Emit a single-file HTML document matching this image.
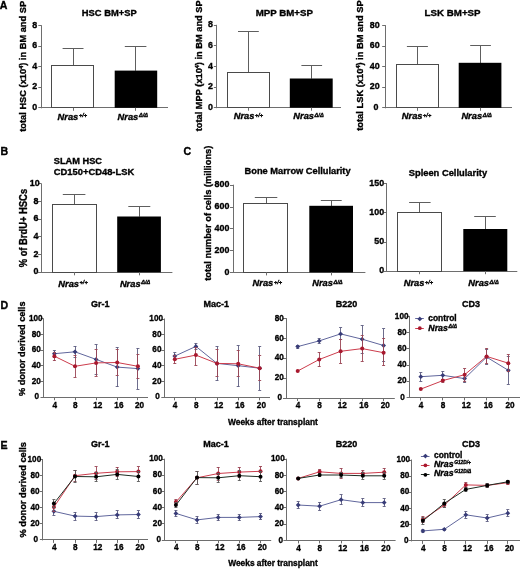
<!DOCTYPE html>
<html><head><meta charset="utf-8"><title>Figure</title>
<style>html,body{margin:0;padding:0;background:#fff;width:520px;height:569px;overflow:hidden}
svg{display:block;will-change:transform}
text{font-family:"Liberation Sans",sans-serif;font-weight:bold;stroke:#000;stroke-width:0.35px}</style></head>
<body>
<svg width="520" height="569" viewBox="0 0 520 569">
<g font-family='"Liberation Sans", sans-serif' font-weight="bold">
<text transform="translate(-0.2,8.8) scale(1.05,1)" font-size="10.1" text-anchor="start" style="" >A</text>
<text transform="translate(0.6,154.6) scale(1.05,1)" font-size="10.1" text-anchor="start" style="" >B</text>
<text transform="translate(183.6,154.7) scale(1.05,1)" font-size="10.1" text-anchor="start" style="" >C</text>
<text transform="translate(0.6,309.0) scale(1.05,1)" font-size="10.1" text-anchor="start" style="" >D</text>
<text transform="translate(0.6,448.8) scale(1.05,1)" font-size="10.1" text-anchor="start" style="" >E</text>
<line x1="41.5" y1="25.2" x2="41.5" y2="108.3" stroke="#6e6e6e" stroke-width="1"/>
<line x1="40.8" y1="107.5" x2="168" y2="107.5" stroke="#6e6e6e" stroke-width="1"/>
<line x1="38.3" y1="107.5" x2="41.3" y2="107.5" stroke="#6e6e6e" stroke-width="1"/>
<text transform="translate(34.6,109.9) scale(0.95,1)" font-size="9.37" text-anchor="middle" style="" >0</text>
<line x1="38.3" y1="87.5" x2="41.3" y2="87.5" stroke="#6e6e6e" stroke-width="1"/>
<text transform="translate(34.6,89.38) scale(0.95,1)" font-size="9.37" text-anchor="middle" style="" >2</text>
<line x1="38.3" y1="66.5" x2="41.3" y2="66.5" stroke="#6e6e6e" stroke-width="1"/>
<text transform="translate(34.6,68.85) scale(0.95,1)" font-size="9.37" text-anchor="middle" style="" >4</text>
<line x1="38.3" y1="46.5" x2="41.3" y2="46.5" stroke="#6e6e6e" stroke-width="1"/>
<text transform="translate(34.6,48.33) scale(0.95,1)" font-size="9.37" text-anchor="middle" style="" >6</text>
<line x1="38.3" y1="25.5" x2="41.3" y2="25.5" stroke="#6e6e6e" stroke-width="1"/>
<text transform="translate(34.6,27.8) scale(0.95,1)" font-size="9.37" text-anchor="middle" style="" >8</text>
<line x1="73.5" y1="65.8" x2="73.5" y2="48.5" stroke="#5e5e5e" stroke-width="1"/>
<line x1="62.6" y1="48.5" x2="83.5" y2="48.5" stroke="#5e5e5e" stroke-width="1"/>
<rect x="51.5" y="65.5" width="42.0" height="42.0" fill="#fff" stroke="#4a4a4a" stroke-width="1"/>
<line x1="73.5" y1="107.8" x2="73.5" y2="110.8" stroke="#6e6e6e" stroke-width="1"/>
<line x1="135.5" y1="70.8" x2="135.5" y2="46.3" stroke="#5e5e5e" stroke-width="1"/>
<line x1="124.8" y1="46.5" x2="146.4" y2="46.5" stroke="#5e5e5e" stroke-width="1"/>
<rect x="114.7" y="70.6" width="42.5" height="37.2" fill="#000"/>
<line x1="135.5" y1="107.8" x2="135.5" y2="110.8" stroke="#6e6e6e" stroke-width="1"/>
<text transform="translate(109.3,15.8) scale(1.0,1)" font-size="9.6" text-anchor="middle" style="" textLength="55.0" lengthAdjust="spacingAndGlyphs" >HSC BM+SP</text>
<text transform="translate(26.2,131.8) rotate(-90) scale(0.96,1)" font-size="9.69" textLength="136.46" lengthAdjust="spacingAndGlyphs">total HSC (x10<tspan font-size="5.6" dy="-3.2">4</tspan><tspan dy="3.2">)</tspan> in BM and SP</text>
<text transform="translate(57.6,119.5) scale(1.0,1)" font-size="9.3" text-anchor="start" style="font-style:italic">Nras<tspan font-size="5.6" dy="-2.7" dx="0.6">+/+</tspan></text>
<text transform="translate(117.6,119.5) scale(1.0,1)" font-size="9.3" text-anchor="start" style="font-style:italic">Nras<tspan font-size="5.6" dy="-2.7" dx="0.6">Δ/Δ</tspan></text>
<line x1="216.5" y1="24.8" x2="216.5" y2="108.2" stroke="#6e6e6e" stroke-width="1"/>
<line x1="216.3" y1="107.5" x2="341" y2="107.5" stroke="#6e6e6e" stroke-width="1"/>
<line x1="213.8" y1="107.5" x2="216.8" y2="107.5" stroke="#6e6e6e" stroke-width="1"/>
<text transform="translate(210.5,109.8) scale(0.95,1)" font-size="9.37" text-anchor="middle" style="" >0</text>
<line x1="213.8" y1="87.5" x2="216.8" y2="87.5" stroke="#6e6e6e" stroke-width="1"/>
<text transform="translate(210.5,89.2) scale(0.95,1)" font-size="9.37" text-anchor="middle" style="" >2</text>
<line x1="213.8" y1="66.5" x2="216.8" y2="66.5" stroke="#6e6e6e" stroke-width="1"/>
<text transform="translate(210.5,68.6) scale(0.95,1)" font-size="9.37" text-anchor="middle" style="" >4</text>
<line x1="213.8" y1="45.5" x2="216.8" y2="45.5" stroke="#6e6e6e" stroke-width="1"/>
<text transform="translate(210.5,48.0) scale(0.95,1)" font-size="9.37" text-anchor="middle" style="" >6</text>
<line x1="213.8" y1="25.5" x2="216.8" y2="25.5" stroke="#6e6e6e" stroke-width="1"/>
<text transform="translate(210.5,27.4) scale(0.95,1)" font-size="9.37" text-anchor="middle" style="" >8</text>
<line x1="248.5" y1="72.2" x2="248.5" y2="31.7" stroke="#5e5e5e" stroke-width="1"/>
<line x1="238.0" y1="31.5" x2="258.8" y2="31.5" stroke="#5e5e5e" stroke-width="1"/>
<rect x="227.5" y="72.5" width="42.0" height="35.0" fill="#fff" stroke="#4a4a4a" stroke-width="1"/>
<line x1="248.5" y1="107.7" x2="248.5" y2="110.7" stroke="#6e6e6e" stroke-width="1"/>
<line x1="311.5" y1="78.7" x2="311.5" y2="65.7" stroke="#5e5e5e" stroke-width="1"/>
<line x1="301.4" y1="65.5" x2="322.1" y2="65.5" stroke="#5e5e5e" stroke-width="1"/>
<rect x="289.8" y="78.5" width="42.9" height="29.2" fill="#000"/>
<line x1="311.5" y1="107.7" x2="311.5" y2="110.7" stroke="#6e6e6e" stroke-width="1"/>
<text transform="translate(284.3,15.8) scale(1.0,1)" font-size="9.6" text-anchor="middle" style="" textLength="57.3" lengthAdjust="spacingAndGlyphs" >MPP BM+SP</text>
<text transform="translate(202,131.3) rotate(-90) scale(0.96,1)" font-size="9.69" textLength="136.46" lengthAdjust="spacingAndGlyphs">total MPP (x10<tspan font-size="5.6" dy="-3.2">4</tspan><tspan dy="3.2">)</tspan> in BM and SP</text>
<text transform="translate(233.7,119.2) scale(1.0,1)" font-size="9.3" text-anchor="start" style="font-style:italic">Nras<tspan font-size="5.6" dy="-2.7" dx="0.6">+/+</tspan></text>
<text transform="translate(293.3,119.2) scale(1.0,1)" font-size="9.3" text-anchor="start" style="font-style:italic">Nras<tspan font-size="5.6" dy="-2.7" dx="0.6">Δ/Δ</tspan></text>
<line x1="385.5" y1="25.1" x2="385.5" y2="108.3" stroke="#6e6e6e" stroke-width="1"/>
<line x1="384.7" y1="107.5" x2="512" y2="107.5" stroke="#6e6e6e" stroke-width="1"/>
<line x1="382.2" y1="107.5" x2="385.2" y2="107.5" stroke="#6e6e6e" stroke-width="1"/>
<text transform="translate(375.9,109.9) scale(0.95,1)" font-size="9.37" text-anchor="middle" style="" >0</text>
<line x1="382.2" y1="87.5" x2="385.2" y2="87.5" stroke="#6e6e6e" stroke-width="1"/>
<text transform="translate(374.8,89.35) scale(0.95,1)" font-size="9.37" text-anchor="middle" style="" >20</text>
<line x1="382.2" y1="66.5" x2="385.2" y2="66.5" stroke="#6e6e6e" stroke-width="1"/>
<text transform="translate(374.8,68.8) scale(0.95,1)" font-size="9.37" text-anchor="middle" style="" >40</text>
<line x1="382.2" y1="46.5" x2="385.2" y2="46.5" stroke="#6e6e6e" stroke-width="1"/>
<text transform="translate(374.8,48.25) scale(0.95,1)" font-size="9.37" text-anchor="middle" style="" >60</text>
<line x1="382.2" y1="25.5" x2="385.2" y2="25.5" stroke="#6e6e6e" stroke-width="1"/>
<text transform="translate(374.8,27.7) scale(0.95,1)" font-size="9.37" text-anchor="middle" style="" >80</text>
<line x1="417.5" y1="64.9" x2="417.5" y2="46.4" stroke="#5e5e5e" stroke-width="1"/>
<line x1="406.9" y1="46.5" x2="427.9" y2="46.5" stroke="#5e5e5e" stroke-width="1"/>
<rect x="396.5" y="64.5" width="42.0" height="43.0" fill="#fff" stroke="#4a4a4a" stroke-width="1"/>
<line x1="417.5" y1="107.8" x2="417.5" y2="110.8" stroke="#6e6e6e" stroke-width="1"/>
<line x1="480.5" y1="63.0" x2="480.5" y2="45.2" stroke="#5e5e5e" stroke-width="1"/>
<line x1="470.2" y1="45.5" x2="490.9" y2="45.5" stroke="#5e5e5e" stroke-width="1"/>
<rect x="458.7" y="62.8" width="42.7" height="45.0" fill="#000"/>
<line x1="480.5" y1="107.8" x2="480.5" y2="110.8" stroke="#6e6e6e" stroke-width="1"/>
<text transform="translate(452.6,15.8) scale(1.0,1)" font-size="9.6" text-anchor="middle" style="" textLength="56.0" lengthAdjust="spacingAndGlyphs" >LSK BM+SP</text>
<text transform="translate(363.3,130.8) rotate(-90) scale(0.96,1)" font-size="9.69" textLength="135.94" lengthAdjust="spacingAndGlyphs">total LSK (x10<tspan font-size="5.6" dy="-3.2">4</tspan><tspan dy="3.2">)</tspan> in BM and SP</text>
<text transform="translate(401.8,119.2) scale(1.0,1)" font-size="9.3" text-anchor="start" style="font-style:italic">Nras<tspan font-size="5.6" dy="-2.7" dx="0.6">+/+</tspan></text>
<text transform="translate(461.4,119.2) scale(1.0,1)" font-size="9.3" text-anchor="start" style="font-style:italic">Nras<tspan font-size="5.6" dy="-2.7" dx="0.6">Δ/Δ</tspan></text>
<line x1="41.5" y1="183.3" x2="41.5" y2="272.8" stroke="#6e6e6e" stroke-width="1"/>
<line x1="40.5" y1="272.5" x2="172.4" y2="272.5" stroke="#6e6e6e" stroke-width="1"/>
<line x1="38.0" y1="272.5" x2="41.0" y2="272.5" stroke="#6e6e6e" stroke-width="1"/>
<text transform="translate(35.9,274.4) scale(0.95,1)" font-size="9.37" text-anchor="middle" style="" >0</text>
<line x1="38.0" y1="254.5" x2="41.0" y2="254.5" stroke="#6e6e6e" stroke-width="1"/>
<text transform="translate(35.9,256.7) scale(0.95,1)" font-size="9.37" text-anchor="middle" style="" >2</text>
<line x1="38.0" y1="236.5" x2="41.0" y2="236.5" stroke="#6e6e6e" stroke-width="1"/>
<text transform="translate(35.9,239.0) scale(0.95,1)" font-size="9.37" text-anchor="middle" style="" >4</text>
<line x1="38.0" y1="219.5" x2="41.0" y2="219.5" stroke="#6e6e6e" stroke-width="1"/>
<text transform="translate(35.9,221.3) scale(0.95,1)" font-size="9.37" text-anchor="middle" style="" >6</text>
<line x1="38.0" y1="201.5" x2="41.0" y2="201.5" stroke="#6e6e6e" stroke-width="1"/>
<text transform="translate(35.9,203.6) scale(0.95,1)" font-size="9.37" text-anchor="middle" style="" >8</text>
<line x1="38.0" y1="183.5" x2="41.0" y2="183.5" stroke="#6e6e6e" stroke-width="1"/>
<text transform="translate(34.8,185.9) scale(0.95,1)" font-size="9.37" text-anchor="middle" style="" >10</text>
<line x1="74.5" y1="204.5" x2="74.5" y2="194.7" stroke="#5e5e5e" stroke-width="1"/>
<line x1="62.8" y1="194.5" x2="85.4" y2="194.5" stroke="#5e5e5e" stroke-width="1"/>
<rect x="52.5" y="204.5" width="44.0" height="68.0" fill="#fff" stroke="#4a4a4a" stroke-width="1"/>
<line x1="74.5" y1="272.3" x2="74.5" y2="275.3" stroke="#6e6e6e" stroke-width="1"/>
<line x1="139.5" y1="216.7" x2="139.5" y2="206.6" stroke="#5e5e5e" stroke-width="1"/>
<line x1="128.3" y1="206.5" x2="150.3" y2="206.5" stroke="#5e5e5e" stroke-width="1"/>
<rect x="117.2" y="216.5" width="43.7" height="55.8" fill="#000"/>
<line x1="139.5" y1="272.3" x2="139.5" y2="275.3" stroke="#6e6e6e" stroke-width="1"/>
<text transform="translate(53.8,164.2) scale(1.0,1)" font-size="9.3" text-anchor="start" style="" textLength="48.2" lengthAdjust="spacingAndGlyphs" >SLAM HSC</text>
<text transform="translate(53.8,175.2) scale(1.0,1)" font-size="9.3" text-anchor="start" style="" textLength="80.4" lengthAdjust="spacingAndGlyphs" >CD150+CD48-LSK</text>
<text transform="translate(27.4,267.3) rotate(-90) scale(0.9,1)" font-size="10.33" textLength="87.11" lengthAdjust="spacingAndGlyphs">% of BrdU+ HSCs</text>
<text transform="translate(58.3,286.8) scale(1.0,1)" font-size="9.3" text-anchor="start" style="font-style:italic">Nras<tspan font-size="5.6" dy="-2.7" dx="0.6">+/+</tspan></text>
<text transform="translate(119.9,286.8) scale(1.0,1)" font-size="9.3" text-anchor="start" style="font-style:italic">Nras<tspan font-size="5.6" dy="-2.7" dx="0.6">Δ/Δ</tspan></text>
<line x1="233.5" y1="184.7" x2="233.5" y2="272.9" stroke="#6e6e6e" stroke-width="1"/>
<line x1="232.5" y1="272.5" x2="365.4" y2="272.5" stroke="#6e6e6e" stroke-width="1"/>
<line x1="230.0" y1="272.5" x2="233.0" y2="272.5" stroke="#6e6e6e" stroke-width="1"/>
<text transform="translate(229.4,274.5) scale(0.95,1)" font-size="9.37" text-anchor="end" style="" >0</text>
<line x1="230.0" y1="250.5" x2="233.0" y2="250.5" stroke="#6e6e6e" stroke-width="1"/>
<text transform="translate(229.4,252.7) scale(0.95,1)" font-size="9.37" text-anchor="end" style="" >200</text>
<line x1="230.0" y1="228.5" x2="233.0" y2="228.5" stroke="#6e6e6e" stroke-width="1"/>
<text transform="translate(229.4,230.9) scale(0.95,1)" font-size="9.37" text-anchor="end" style="" >400</text>
<line x1="230.0" y1="207.5" x2="233.0" y2="207.5" stroke="#6e6e6e" stroke-width="1"/>
<text transform="translate(229.4,209.1) scale(0.95,1)" font-size="9.37" text-anchor="end" style="" >600</text>
<line x1="230.0" y1="185.5" x2="233.0" y2="185.5" stroke="#6e6e6e" stroke-width="1"/>
<text transform="translate(229.4,187.3) scale(0.95,1)" font-size="9.37" text-anchor="end" style="" >800</text>
<line x1="266.5" y1="203.9" x2="266.5" y2="197.6" stroke="#5e5e5e" stroke-width="1"/>
<line x1="254.8" y1="197.5" x2="277.3" y2="197.5" stroke="#5e5e5e" stroke-width="1"/>
<rect x="243.5" y="203.5" width="44.0" height="69.0" fill="#fff" stroke="#4a4a4a" stroke-width="1"/>
<line x1="266.5" y1="272.4" x2="266.5" y2="275.4" stroke="#6e6e6e" stroke-width="1"/>
<line x1="331.5" y1="206.0" x2="331.5" y2="200.8" stroke="#5e5e5e" stroke-width="1"/>
<line x1="320.8" y1="200.5" x2="341.7" y2="200.5" stroke="#5e5e5e" stroke-width="1"/>
<rect x="309.3" y="205.8" width="43.7" height="66.6" fill="#000"/>
<line x1="331.5" y1="272.4" x2="331.5" y2="275.4" stroke="#6e6e6e" stroke-width="1"/>
<text transform="translate(244.6,174.4) scale(1.0,1)" font-size="9.3" text-anchor="start" style="" textLength="106.0" lengthAdjust="spacingAndGlyphs" >Bone Marrow Cellularity</text>
<text transform="translate(210.8,280.8) rotate(-90) scale(0.96,1)" font-size="9.69" textLength="140.83" lengthAdjust="spacingAndGlyphs">total number of cells (millions)</text>
<text transform="translate(252.6,286.2) scale(1.0,1)" font-size="9.3" text-anchor="start" style="font-style:italic">Nras<tspan font-size="5.6" dy="-2.7" dx="0.6">+/+</tspan></text>
<text transform="translate(312.2,286.2) scale(1.0,1)" font-size="9.3" text-anchor="start" style="font-style:italic">Nras<tspan font-size="5.6" dy="-2.7" dx="0.6">Δ/Δ</tspan></text>
<line x1="386.5" y1="183.2" x2="386.5" y2="271.7" stroke="#6e6e6e" stroke-width="1"/>
<line x1="386.4" y1="271.5" x2="517.3" y2="271.5" stroke="#6e6e6e" stroke-width="1"/>
<line x1="383.9" y1="271.5" x2="386.9" y2="271.5" stroke="#6e6e6e" stroke-width="1"/>
<text transform="translate(384.09999999999997,273.3) scale(0.95,1)" font-size="9.37" text-anchor="end" style="" >0</text>
<line x1="383.9" y1="242.5" x2="386.9" y2="242.5" stroke="#6e6e6e" stroke-width="1"/>
<text transform="translate(384.09999999999997,244.13) scale(0.95,1)" font-size="9.37" text-anchor="end" style="" >50</text>
<line x1="383.9" y1="212.5" x2="386.9" y2="212.5" stroke="#6e6e6e" stroke-width="1"/>
<text transform="translate(384.09999999999997,214.97) scale(0.95,1)" font-size="9.37" text-anchor="end" style="" >100</text>
<line x1="383.9" y1="183.5" x2="386.9" y2="183.5" stroke="#6e6e6e" stroke-width="1"/>
<text transform="translate(384.09999999999997,185.8) scale(0.95,1)" font-size="9.37" text-anchor="end" style="" >150</text>
<line x1="419.5" y1="212.5" x2="419.5" y2="202.5" stroke="#5e5e5e" stroke-width="1"/>
<line x1="409.1" y1="202.5" x2="430.6" y2="202.5" stroke="#5e5e5e" stroke-width="1"/>
<rect x="397.5" y="212.5" width="44.0" height="59.0" fill="#fff" stroke="#4a4a4a" stroke-width="1"/>
<line x1="419.5" y1="271.2" x2="419.5" y2="274.2" stroke="#6e6e6e" stroke-width="1"/>
<line x1="485.5" y1="229.2" x2="485.5" y2="216.0" stroke="#5e5e5e" stroke-width="1"/>
<line x1="474.2" y1="216.5" x2="495.8" y2="216.5" stroke="#5e5e5e" stroke-width="1"/>
<rect x="463.3" y="229.0" width="44.0" height="42.2" fill="#000"/>
<line x1="485.5" y1="271.2" x2="485.5" y2="274.2" stroke="#6e6e6e" stroke-width="1"/>
<text transform="translate(408.7,176.3) scale(1.0,1)" font-size="9.3" text-anchor="start" style="" textLength="78.4" lengthAdjust="spacingAndGlyphs" >Spleen Cellularity</text>
<text transform="translate(403.7,286.2) scale(1.0,1)" font-size="9.3" text-anchor="start" style="font-style:italic">Nras<tspan font-size="5.6" dy="-2.7" dx="0.6">+/+</tspan></text>
<text transform="translate(468.3,286.2) scale(1.0,1)" font-size="9.3" text-anchor="start" style="font-style:italic">Nras<tspan font-size="5.6" dy="-2.7" dx="0.6">Δ/Δ</tspan></text>
<line x1="43.5" y1="318.4" x2="43.5" y2="397.7" stroke="#6e6e6e" stroke-width="1"/>
<line x1="43.0" y1="397.5" x2="148" y2="397.5" stroke="#6e6e6e" stroke-width="1"/>
<line x1="40.5" y1="397.5" x2="43.5" y2="397.5" stroke="#6e6e6e" stroke-width="1"/>
<text transform="translate(36.8,399.3) scale(0.875,1)" font-size="9.37" text-anchor="middle" style="" >0</text>
<line x1="40.5" y1="381.5" x2="43.5" y2="381.5" stroke="#6e6e6e" stroke-width="1"/>
<text transform="translate(36.3,383.64) scale(0.875,1)" font-size="9.37" text-anchor="middle" style="" >20</text>
<line x1="40.5" y1="365.5" x2="43.5" y2="365.5" stroke="#6e6e6e" stroke-width="1"/>
<text transform="translate(36.3,367.98) scale(0.875,1)" font-size="9.37" text-anchor="middle" style="" >40</text>
<line x1="40.5" y1="350.5" x2="43.5" y2="350.5" stroke="#6e6e6e" stroke-width="1"/>
<text transform="translate(36.3,352.32) scale(0.875,1)" font-size="9.37" text-anchor="middle" style="" >60</text>
<line x1="40.5" y1="334.5" x2="43.5" y2="334.5" stroke="#6e6e6e" stroke-width="1"/>
<text transform="translate(36.3,336.66) scale(0.875,1)" font-size="9.37" text-anchor="middle" style="" >80</text>
<line x1="40.5" y1="318.5" x2="43.5" y2="318.5" stroke="#6e6e6e" stroke-width="1"/>
<text transform="translate(35.8,321.0) scale(0.875,1)" font-size="9.37" text-anchor="middle" style="" >100</text>
<line x1="54.5" y1="397.2" x2="54.5" y2="400.2" stroke="#6e6e6e" stroke-width="1"/>
<text transform="translate(54.7,407.5) scale(0.875,1)" font-size="9.37" text-anchor="middle" style="" >4</text>
<line x1="75.5" y1="397.2" x2="75.5" y2="400.2" stroke="#6e6e6e" stroke-width="1"/>
<text transform="translate(75.3,407.5) scale(0.875,1)" font-size="9.37" text-anchor="middle" style="" >8</text>
<line x1="96.5" y1="397.2" x2="96.5" y2="400.2" stroke="#6e6e6e" stroke-width="1"/>
<text transform="translate(97.8,407.5) scale(0.875,1)" font-size="9.37" text-anchor="middle" style="" >12</text>
<line x1="117.5" y1="397.2" x2="117.5" y2="400.2" stroke="#6e6e6e" stroke-width="1"/>
<text transform="translate(118.9,407.5) scale(0.875,1)" font-size="9.37" text-anchor="middle" style="" >16</text>
<line x1="137.5" y1="397.2" x2="137.5" y2="400.2" stroke="#6e6e6e" stroke-width="1"/>
<text transform="translate(139.6,407.5) scale(0.875,1)" font-size="9.37" text-anchor="middle" style="" >20</text>
<polyline points="54.4,353.7 75.0,351.8 96.1,359.4 117.2,367.1 137.9,368.6" fill="none" stroke="#60669c" stroke-width="1"/>
<line x1="54.5" y1="350.5" x2="54.5" y2="357.3" stroke="#5c5c80" stroke-width="0.9"/>
<line x1="52.9" y1="350.5" x2="55.9" y2="350.5" stroke="#5c5c80" stroke-width="0.9"/>
<line x1="52.9" y1="357.5" x2="55.9" y2="357.5" stroke="#5c5c80" stroke-width="0.9"/>
<line x1="75.5" y1="346.1" x2="75.5" y2="357.3" stroke="#5c5c80" stroke-width="0.9"/>
<line x1="73.5" y1="346.5" x2="76.5" y2="346.5" stroke="#5c5c80" stroke-width="0.9"/>
<line x1="73.5" y1="357.5" x2="76.5" y2="357.5" stroke="#5c5c80" stroke-width="0.9"/>
<line x1="96.5" y1="344.5" x2="96.5" y2="374.3" stroke="#5c5c80" stroke-width="0.9"/>
<line x1="94.6" y1="344.5" x2="97.6" y2="344.5" stroke="#5c5c80" stroke-width="0.9"/>
<line x1="94.6" y1="374.5" x2="97.6" y2="374.5" stroke="#5c5c80" stroke-width="0.9"/>
<line x1="117.5" y1="347.6" x2="117.5" y2="386.8" stroke="#5c5c80" stroke-width="0.9"/>
<line x1="115.7" y1="347.5" x2="118.7" y2="347.5" stroke="#5c5c80" stroke-width="0.9"/>
<line x1="115.7" y1="386.5" x2="118.7" y2="386.5" stroke="#5c5c80" stroke-width="0.9"/>
<line x1="137.5" y1="348.3" x2="137.5" y2="389.0" stroke="#5c5c80" stroke-width="0.9"/>
<line x1="136.4" y1="348.5" x2="139.4" y2="348.5" stroke="#5c5c80" stroke-width="0.9"/>
<line x1="136.4" y1="389.5" x2="139.4" y2="389.5" stroke="#5c5c80" stroke-width="0.9"/>
<path d="M54.4 351.3L56.8 353.7L54.4 356.1L52.0 353.7Z" fill="#383c78"/>
<path d="M75.0 349.4L77.4 351.8L75.0 354.2L72.6 351.8Z" fill="#383c78"/>
<path d="M96.1 357.0L98.5 359.4L96.1 361.8L93.7 359.4Z" fill="#383c78"/>
<path d="M117.2 364.7L119.6 367.1L117.2 369.5L114.8 367.1Z" fill="#383c78"/>
<path d="M137.9 366.2L140.3 368.6L137.9 371.0L135.5 368.6Z" fill="#383c78"/>
<polyline points="54.4,356.2 75.0,366.3 96.1,362.9 117.2,362.5 137.9,366.3" fill="none" stroke="#cc3c4c" stroke-width="1"/>
<line x1="54.5" y1="352.6" x2="54.5" y2="360.9" stroke="#9a4454" stroke-width="0.9"/>
<line x1="52.9" y1="352.5" x2="55.9" y2="352.5" stroke="#9a4454" stroke-width="0.9"/>
<line x1="52.9" y1="360.5" x2="55.9" y2="360.5" stroke="#9a4454" stroke-width="0.9"/>
<line x1="75.5" y1="355.4" x2="75.5" y2="377.2" stroke="#9a4454" stroke-width="0.9"/>
<line x1="73.5" y1="355.5" x2="76.5" y2="355.5" stroke="#9a4454" stroke-width="0.9"/>
<line x1="73.5" y1="377.5" x2="76.5" y2="377.5" stroke="#9a4454" stroke-width="0.9"/>
<line x1="96.5" y1="349.4" x2="96.5" y2="376.1" stroke="#9a4454" stroke-width="0.9"/>
<line x1="94.6" y1="349.5" x2="97.6" y2="349.5" stroke="#9a4454" stroke-width="0.9"/>
<line x1="94.6" y1="376.5" x2="97.6" y2="376.5" stroke="#9a4454" stroke-width="0.9"/>
<line x1="117.5" y1="349.4" x2="117.5" y2="375.6" stroke="#9a4454" stroke-width="0.9"/>
<line x1="115.7" y1="349.5" x2="118.7" y2="349.5" stroke="#9a4454" stroke-width="0.9"/>
<line x1="115.7" y1="375.5" x2="118.7" y2="375.5" stroke="#9a4454" stroke-width="0.9"/>
<line x1="137.5" y1="354.6" x2="137.5" y2="378.4" stroke="#9a4454" stroke-width="0.9"/>
<line x1="136.4" y1="354.5" x2="139.4" y2="354.5" stroke="#9a4454" stroke-width="0.9"/>
<line x1="136.4" y1="378.5" x2="139.4" y2="378.5" stroke="#9a4454" stroke-width="0.9"/>
<circle cx="54.4" cy="356.2" r="2.0" fill="#a8182e"/>
<circle cx="75.0" cy="366.3" r="2.0" fill="#a8182e"/>
<circle cx="96.1" cy="362.9" r="2.0" fill="#a8182e"/>
<circle cx="117.2" cy="362.5" r="2.0" fill="#a8182e"/>
<circle cx="137.9" cy="366.3" r="2.0" fill="#a8182e"/>
<text transform="translate(100.3,306.8) scale(1.0,1)" font-size="9.0" text-anchor="middle" style="" >Gr-1</text>
<text transform="translate(25.0,396.0) rotate(-90) scale(0.96,1)" font-size="9.69" textLength="98.44" lengthAdjust="spacingAndGlyphs">% donor derived cells</text>
<line x1="164.5" y1="318.5" x2="164.5" y2="397.8" stroke="#6e6e6e" stroke-width="1"/>
<line x1="163.8" y1="397.5" x2="270" y2="397.5" stroke="#6e6e6e" stroke-width="1"/>
<line x1="161.3" y1="397.5" x2="164.3" y2="397.5" stroke="#6e6e6e" stroke-width="1"/>
<text transform="translate(157.6,399.4) scale(0.875,1)" font-size="9.37" text-anchor="middle" style="" >0</text>
<line x1="161.3" y1="381.5" x2="164.3" y2="381.5" stroke="#6e6e6e" stroke-width="1"/>
<text transform="translate(156.9,383.74) scale(0.875,1)" font-size="9.37" text-anchor="middle" style="" >20</text>
<line x1="161.3" y1="365.5" x2="164.3" y2="365.5" stroke="#6e6e6e" stroke-width="1"/>
<text transform="translate(156.9,368.08) scale(0.875,1)" font-size="9.37" text-anchor="middle" style="" >40</text>
<line x1="161.3" y1="350.5" x2="164.3" y2="350.5" stroke="#6e6e6e" stroke-width="1"/>
<text transform="translate(156.9,352.42) scale(0.875,1)" font-size="9.37" text-anchor="middle" style="" >60</text>
<line x1="161.3" y1="334.5" x2="164.3" y2="334.5" stroke="#6e6e6e" stroke-width="1"/>
<text transform="translate(156.9,336.76) scale(0.875,1)" font-size="9.37" text-anchor="middle" style="" >80</text>
<line x1="161.3" y1="319.5" x2="164.3" y2="319.5" stroke="#6e6e6e" stroke-width="1"/>
<text transform="translate(156.2,321.1) scale(0.875,1)" font-size="9.37" text-anchor="middle" style="" >100</text>
<line x1="174.5" y1="397.3" x2="174.5" y2="400.3" stroke="#6e6e6e" stroke-width="1"/>
<text transform="translate(175.1,407.6) scale(0.875,1)" font-size="9.37" text-anchor="middle" style="" >4</text>
<line x1="195.5" y1="397.3" x2="195.5" y2="400.3" stroke="#6e6e6e" stroke-width="1"/>
<text transform="translate(196.2,407.6) scale(0.875,1)" font-size="9.37" text-anchor="middle" style="" >8</text>
<line x1="217.5" y1="397.3" x2="217.5" y2="400.3" stroke="#6e6e6e" stroke-width="1"/>
<text transform="translate(218.7,407.6) scale(0.875,1)" font-size="9.37" text-anchor="middle" style="" >12</text>
<line x1="238.5" y1="397.3" x2="238.5" y2="400.3" stroke="#6e6e6e" stroke-width="1"/>
<text transform="translate(239.9,407.6) scale(0.875,1)" font-size="9.37" text-anchor="middle" style="" >16</text>
<line x1="259.5" y1="397.3" x2="259.5" y2="400.3" stroke="#6e6e6e" stroke-width="1"/>
<text transform="translate(261.4,407.6) scale(0.875,1)" font-size="9.37" text-anchor="middle" style="" >20</text>
<polyline points="174.8,356.1 195.9,346.4 217.0,363.4 238.2,365.7 259.7,368.2" fill="none" stroke="#60669c" stroke-width="1"/>
<line x1="174.5" y1="352.8" x2="174.5" y2="359.7" stroke="#5c5c80" stroke-width="0.9"/>
<line x1="173.3" y1="352.5" x2="176.3" y2="352.5" stroke="#5c5c80" stroke-width="0.9"/>
<line x1="173.3" y1="359.5" x2="176.3" y2="359.5" stroke="#5c5c80" stroke-width="0.9"/>
<line x1="195.5" y1="343.3" x2="195.5" y2="349.5" stroke="#5c5c80" stroke-width="0.9"/>
<line x1="194.4" y1="343.5" x2="197.4" y2="343.5" stroke="#5c5c80" stroke-width="0.9"/>
<line x1="194.4" y1="349.5" x2="197.4" y2="349.5" stroke="#5c5c80" stroke-width="0.9"/>
<line x1="217.5" y1="346.4" x2="217.5" y2="380.5" stroke="#5c5c80" stroke-width="0.9"/>
<line x1="215.5" y1="346.5" x2="218.5" y2="346.5" stroke="#5c5c80" stroke-width="0.9"/>
<line x1="215.5" y1="380.5" x2="218.5" y2="380.5" stroke="#5c5c80" stroke-width="0.9"/>
<line x1="238.5" y1="345.6" x2="238.5" y2="386.7" stroke="#5c5c80" stroke-width="0.9"/>
<line x1="236.7" y1="345.5" x2="239.7" y2="345.5" stroke="#5c5c80" stroke-width="0.9"/>
<line x1="236.7" y1="386.5" x2="239.7" y2="386.5" stroke="#5c5c80" stroke-width="0.9"/>
<line x1="259.5" y1="346.4" x2="259.5" y2="390.0" stroke="#5c5c80" stroke-width="0.9"/>
<line x1="258.2" y1="346.5" x2="261.2" y2="346.5" stroke="#5c5c80" stroke-width="0.9"/>
<line x1="258.2" y1="390.5" x2="261.2" y2="390.5" stroke="#5c5c80" stroke-width="0.9"/>
<path d="M174.8 353.7L177.2 356.1L174.8 358.5L172.4 356.1Z" fill="#383c78"/>
<path d="M195.9 344.0L198.3 346.4L195.9 348.8L193.5 346.4Z" fill="#383c78"/>
<path d="M217.0 361.0L219.4 363.4L217.0 365.8L214.6 363.4Z" fill="#383c78"/>
<path d="M238.2 363.3L240.6 365.7L238.2 368.1L235.8 365.7Z" fill="#383c78"/>
<path d="M259.7 365.8L262.1 368.2L259.7 370.6L257.3 368.2Z" fill="#383c78"/>
<polyline points="174.8,359.3 195.9,355.1 217.0,363.4 238.2,363.8 259.7,368.2" fill="none" stroke="#cc3c4c" stroke-width="1"/>
<line x1="174.5" y1="355.8" x2="174.5" y2="363.8" stroke="#9a4454" stroke-width="0.9"/>
<line x1="173.3" y1="355.5" x2="176.3" y2="355.5" stroke="#9a4454" stroke-width="0.9"/>
<line x1="173.3" y1="363.5" x2="176.3" y2="363.5" stroke="#9a4454" stroke-width="0.9"/>
<line x1="195.5" y1="347.2" x2="195.5" y2="365.7" stroke="#9a4454" stroke-width="0.9"/>
<line x1="194.4" y1="347.5" x2="197.4" y2="347.5" stroke="#9a4454" stroke-width="0.9"/>
<line x1="194.4" y1="365.5" x2="197.4" y2="365.5" stroke="#9a4454" stroke-width="0.9"/>
<line x1="217.5" y1="349.3" x2="217.5" y2="376.6" stroke="#9a4454" stroke-width="0.9"/>
<line x1="215.5" y1="349.5" x2="218.5" y2="349.5" stroke="#9a4454" stroke-width="0.9"/>
<line x1="215.5" y1="376.5" x2="218.5" y2="376.5" stroke="#9a4454" stroke-width="0.9"/>
<line x1="238.5" y1="350.3" x2="238.5" y2="376.6" stroke="#9a4454" stroke-width="0.9"/>
<line x1="236.7" y1="350.5" x2="239.7" y2="350.5" stroke="#9a4454" stroke-width="0.9"/>
<line x1="236.7" y1="376.5" x2="239.7" y2="376.5" stroke="#9a4454" stroke-width="0.9"/>
<line x1="259.5" y1="355.0" x2="259.5" y2="380.5" stroke="#9a4454" stroke-width="0.9"/>
<line x1="258.2" y1="355.5" x2="261.2" y2="355.5" stroke="#9a4454" stroke-width="0.9"/>
<line x1="258.2" y1="380.5" x2="261.2" y2="380.5" stroke="#9a4454" stroke-width="0.9"/>
<circle cx="174.8" cy="359.3" r="2.0" fill="#a8182e"/>
<circle cx="195.9" cy="355.1" r="2.0" fill="#a8182e"/>
<circle cx="217.0" cy="363.4" r="2.0" fill="#a8182e"/>
<circle cx="238.2" cy="363.8" r="2.0" fill="#a8182e"/>
<circle cx="259.7" cy="368.2" r="2.0" fill="#a8182e"/>
<text transform="translate(216.2,306.8) scale(1.0,1)" font-size="9.0" text-anchor="middle" style="" >Mac-1</text>
<line x1="286.5" y1="318.1" x2="286.5" y2="398.5" stroke="#6e6e6e" stroke-width="1"/>
<line x1="285.5" y1="398.5" x2="394.8" y2="398.5" stroke="#6e6e6e" stroke-width="1"/>
<line x1="283.0" y1="398.5" x2="286.0" y2="398.5" stroke="#6e6e6e" stroke-width="1"/>
<text transform="translate(279.7,400.1) scale(0.875,1)" font-size="9.37" text-anchor="middle" style="" >0</text>
<line x1="283.0" y1="378.5" x2="286.0" y2="378.5" stroke="#6e6e6e" stroke-width="1"/>
<text transform="translate(279.3,380.25) scale(0.875,1)" font-size="9.37" text-anchor="middle" style="" >20</text>
<line x1="283.0" y1="358.5" x2="286.0" y2="358.5" stroke="#6e6e6e" stroke-width="1"/>
<text transform="translate(279.3,360.4) scale(0.875,1)" font-size="9.37" text-anchor="middle" style="" >40</text>
<line x1="283.0" y1="338.5" x2="286.0" y2="338.5" stroke="#6e6e6e" stroke-width="1"/>
<text transform="translate(279.3,340.55) scale(0.875,1)" font-size="9.37" text-anchor="middle" style="" >60</text>
<line x1="283.0" y1="318.5" x2="286.0" y2="318.5" stroke="#6e6e6e" stroke-width="1"/>
<text transform="translate(279.3,320.7) scale(0.875,1)" font-size="9.37" text-anchor="middle" style="" >80</text>
<line x1="297.5" y1="398.0" x2="297.5" y2="401.0" stroke="#6e6e6e" stroke-width="1"/>
<text transform="translate(298.0,408.3) scale(0.875,1)" font-size="9.37" text-anchor="middle" style="" >4</text>
<line x1="319.5" y1="398.0" x2="319.5" y2="401.0" stroke="#6e6e6e" stroke-width="1"/>
<text transform="translate(319.5,408.3) scale(0.875,1)" font-size="9.37" text-anchor="middle" style="" >8</text>
<line x1="340.5" y1="398.0" x2="340.5" y2="401.0" stroke="#6e6e6e" stroke-width="1"/>
<text transform="translate(342.3,408.3) scale(0.875,1)" font-size="9.37" text-anchor="middle" style="" >12</text>
<line x1="362.5" y1="398.0" x2="362.5" y2="401.0" stroke="#6e6e6e" stroke-width="1"/>
<text transform="translate(363.9,408.3) scale(0.875,1)" font-size="9.37" text-anchor="middle" style="" >16</text>
<line x1="383.5" y1="398.0" x2="383.5" y2="401.0" stroke="#6e6e6e" stroke-width="1"/>
<text transform="translate(385.3,408.3) scale(0.875,1)" font-size="9.37" text-anchor="middle" style="" >20</text>
<polyline points="297.7,346.6 319.2,340.9 340.6,333.9 362.2,339.2 383.6,345.5" fill="none" stroke="#60669c" stroke-width="1"/>
<line x1="297.5" y1="345.1" x2="297.5" y2="348.1" stroke="#5c5c80" stroke-width="0.9"/>
<line x1="296.2" y1="345.5" x2="299.2" y2="345.5" stroke="#5c5c80" stroke-width="0.9"/>
<line x1="296.2" y1="348.5" x2="299.2" y2="348.5" stroke="#5c5c80" stroke-width="0.9"/>
<line x1="319.5" y1="338.5" x2="319.5" y2="343.1" stroke="#5c5c80" stroke-width="0.9"/>
<line x1="317.7" y1="338.5" x2="320.7" y2="338.5" stroke="#5c5c80" stroke-width="0.9"/>
<line x1="317.7" y1="343.5" x2="320.7" y2="343.5" stroke="#5c5c80" stroke-width="0.9"/>
<line x1="340.5" y1="327.8" x2="340.5" y2="339.9" stroke="#5c5c80" stroke-width="0.9"/>
<line x1="339.1" y1="327.5" x2="342.1" y2="327.5" stroke="#5c5c80" stroke-width="0.9"/>
<line x1="339.1" y1="339.5" x2="342.1" y2="339.5" stroke="#5c5c80" stroke-width="0.9"/>
<line x1="362.5" y1="325.5" x2="362.5" y2="353.1" stroke="#5c5c80" stroke-width="0.9"/>
<line x1="360.7" y1="325.5" x2="363.7" y2="325.5" stroke="#5c5c80" stroke-width="0.9"/>
<line x1="360.7" y1="353.5" x2="363.7" y2="353.5" stroke="#5c5c80" stroke-width="0.9"/>
<line x1="383.5" y1="328.8" x2="383.5" y2="361.4" stroke="#5c5c80" stroke-width="0.9"/>
<line x1="382.1" y1="328.5" x2="385.1" y2="328.5" stroke="#5c5c80" stroke-width="0.9"/>
<line x1="382.1" y1="361.5" x2="385.1" y2="361.5" stroke="#5c5c80" stroke-width="0.9"/>
<path d="M297.7 344.2L300.1 346.6L297.7 349.0L295.3 346.6Z" fill="#383c78"/>
<path d="M319.2 338.5L321.6 340.9L319.2 343.3L316.8 340.9Z" fill="#383c78"/>
<path d="M340.6 331.5L343.0 333.9L340.6 336.3L338.2 333.9Z" fill="#383c78"/>
<path d="M362.2 336.8L364.6 339.2L362.2 341.6L359.8 339.2Z" fill="#383c78"/>
<path d="M383.6 343.1L386.0 345.5L383.6 347.9L381.2 345.5Z" fill="#383c78"/>
<polyline points="297.7,371.0 319.2,359.5 340.6,351.3 362.2,348.6 383.6,352.7" fill="none" stroke="#cc3c4c" stroke-width="1"/>
<line x1="319.5" y1="352.3" x2="319.5" y2="366.5" stroke="#9a4454" stroke-width="0.9"/>
<line x1="317.7" y1="352.5" x2="320.7" y2="352.5" stroke="#9a4454" stroke-width="0.9"/>
<line x1="317.7" y1="366.5" x2="320.7" y2="366.5" stroke="#9a4454" stroke-width="0.9"/>
<line x1="340.5" y1="339.6" x2="340.5" y2="363.4" stroke="#9a4454" stroke-width="0.9"/>
<line x1="339.1" y1="339.5" x2="342.1" y2="339.5" stroke="#9a4454" stroke-width="0.9"/>
<line x1="339.1" y1="363.5" x2="342.1" y2="363.5" stroke="#9a4454" stroke-width="0.9"/>
<line x1="362.5" y1="335.5" x2="362.5" y2="361.4" stroke="#9a4454" stroke-width="0.9"/>
<line x1="360.7" y1="335.5" x2="363.7" y2="335.5" stroke="#9a4454" stroke-width="0.9"/>
<line x1="360.7" y1="361.5" x2="363.7" y2="361.5" stroke="#9a4454" stroke-width="0.9"/>
<line x1="383.5" y1="338.5" x2="383.5" y2="365.8" stroke="#9a4454" stroke-width="0.9"/>
<line x1="382.1" y1="338.5" x2="385.1" y2="338.5" stroke="#9a4454" stroke-width="0.9"/>
<line x1="382.1" y1="365.5" x2="385.1" y2="365.5" stroke="#9a4454" stroke-width="0.9"/>
<circle cx="297.7" cy="371.0" r="2.0" fill="#a8182e"/>
<circle cx="319.2" cy="359.5" r="2.0" fill="#a8182e"/>
<circle cx="340.6" cy="351.3" r="2.0" fill="#a8182e"/>
<circle cx="362.2" cy="348.6" r="2.0" fill="#a8182e"/>
<circle cx="383.6" cy="352.7" r="2.0" fill="#a8182e"/>
<text transform="translate(346.4,306.8) scale(1.0,1)" font-size="9.0" text-anchor="middle" style="" >B220</text>
<line x1="409.5" y1="315.9" x2="409.5" y2="397.9" stroke="#6e6e6e" stroke-width="1"/>
<line x1="409.1" y1="397.5" x2="520" y2="397.5" stroke="#6e6e6e" stroke-width="1"/>
<line x1="406.6" y1="397.5" x2="409.6" y2="397.5" stroke="#6e6e6e" stroke-width="1"/>
<text transform="translate(402.5,399.5) scale(0.875,1)" font-size="9.37" text-anchor="middle" style="" >0</text>
<line x1="406.6" y1="381.5" x2="409.6" y2="381.5" stroke="#6e6e6e" stroke-width="1"/>
<text transform="translate(402.1,383.3) scale(0.875,1)" font-size="9.37" text-anchor="middle" style="" >20</text>
<line x1="406.6" y1="365.5" x2="409.6" y2="365.5" stroke="#6e6e6e" stroke-width="1"/>
<text transform="translate(402.1,367.1) scale(0.875,1)" font-size="9.37" text-anchor="middle" style="" >40</text>
<line x1="406.6" y1="348.5" x2="409.6" y2="348.5" stroke="#6e6e6e" stroke-width="1"/>
<text transform="translate(402.1,350.9) scale(0.875,1)" font-size="9.37" text-anchor="middle" style="" >60</text>
<line x1="406.6" y1="332.5" x2="409.6" y2="332.5" stroke="#6e6e6e" stroke-width="1"/>
<text transform="translate(402.1,334.7) scale(0.875,1)" font-size="9.37" text-anchor="middle" style="" >80</text>
<line x1="406.6" y1="316.5" x2="409.6" y2="316.5" stroke="#6e6e6e" stroke-width="1"/>
<text transform="translate(401.7,318.5) scale(0.875,1)" font-size="9.37" text-anchor="middle" style="" >100</text>
<line x1="420.5" y1="397.4" x2="420.5" y2="400.4" stroke="#6e6e6e" stroke-width="1"/>
<text transform="translate(421.1,407.7) scale(0.875,1)" font-size="9.37" text-anchor="middle" style="" >4</text>
<line x1="442.5" y1="397.4" x2="442.5" y2="400.4" stroke="#6e6e6e" stroke-width="1"/>
<text transform="translate(443.1,407.7) scale(0.875,1)" font-size="9.37" text-anchor="middle" style="" >8</text>
<line x1="464.5" y1="397.4" x2="464.5" y2="400.4" stroke="#6e6e6e" stroke-width="1"/>
<text transform="translate(466.3,407.7) scale(0.875,1)" font-size="9.37" text-anchor="middle" style="" >12</text>
<line x1="486.5" y1="397.4" x2="486.5" y2="400.4" stroke="#6e6e6e" stroke-width="1"/>
<text transform="translate(488.3,407.7) scale(0.875,1)" font-size="9.37" text-anchor="middle" style="" >16</text>
<line x1="508.5" y1="397.4" x2="508.5" y2="400.4" stroke="#6e6e6e" stroke-width="1"/>
<text transform="translate(510.0,407.7) scale(0.875,1)" font-size="9.37" text-anchor="middle" style="" >20</text>
<polyline points="420.8,376.7 442.8,375.3 464.6,378.6 486.6,357.1 508.3,370.3" fill="none" stroke="#60669c" stroke-width="1"/>
<line x1="420.5" y1="372.5" x2="420.5" y2="381.4" stroke="#5c5c80" stroke-width="0.9"/>
<line x1="419.3" y1="372.5" x2="422.3" y2="372.5" stroke="#5c5c80" stroke-width="0.9"/>
<line x1="419.3" y1="381.5" x2="422.3" y2="381.5" stroke="#5c5c80" stroke-width="0.9"/>
<line x1="442.5" y1="371.3" x2="442.5" y2="379.6" stroke="#5c5c80" stroke-width="0.9"/>
<line x1="441.3" y1="371.5" x2="444.3" y2="371.5" stroke="#5c5c80" stroke-width="0.9"/>
<line x1="441.3" y1="379.5" x2="444.3" y2="379.5" stroke="#5c5c80" stroke-width="0.9"/>
<line x1="464.5" y1="374.7" x2="464.5" y2="382.8" stroke="#5c5c80" stroke-width="0.9"/>
<line x1="463.1" y1="374.5" x2="466.1" y2="374.5" stroke="#5c5c80" stroke-width="0.9"/>
<line x1="463.1" y1="382.5" x2="466.1" y2="382.5" stroke="#5c5c80" stroke-width="0.9"/>
<line x1="486.5" y1="349.6" x2="486.5" y2="364.2" stroke="#5c5c80" stroke-width="0.9"/>
<line x1="485.1" y1="349.5" x2="488.1" y2="349.5" stroke="#5c5c80" stroke-width="0.9"/>
<line x1="485.1" y1="364.5" x2="488.1" y2="364.5" stroke="#5c5c80" stroke-width="0.9"/>
<line x1="508.5" y1="356.9" x2="508.5" y2="384.0" stroke="#5c5c80" stroke-width="0.9"/>
<line x1="506.8" y1="356.5" x2="509.8" y2="356.5" stroke="#5c5c80" stroke-width="0.9"/>
<line x1="506.8" y1="384.5" x2="509.8" y2="384.5" stroke="#5c5c80" stroke-width="0.9"/>
<path d="M420.8 374.3L423.2 376.7L420.8 379.1L418.4 376.7Z" fill="#383c78"/>
<path d="M442.8 372.9L445.2 375.3L442.8 377.7L440.4 375.3Z" fill="#383c78"/>
<path d="M464.6 376.2L467.0 378.6L464.6 381.0L462.2 378.6Z" fill="#383c78"/>
<path d="M486.6 354.7L489.0 357.1L486.6 359.5L484.2 357.1Z" fill="#383c78"/>
<path d="M508.3 367.9L510.7 370.3L508.3 372.7L505.9 370.3Z" fill="#383c78"/>
<polyline points="420.8,389.1 442.8,380.6 464.6,374.7 486.6,356.4 508.3,363.2" fill="none" stroke="#cc3c4c" stroke-width="1"/>
<line x1="442.5" y1="379.1" x2="442.5" y2="382.0" stroke="#9a4454" stroke-width="0.9"/>
<line x1="441.3" y1="379.5" x2="444.3" y2="379.5" stroke="#9a4454" stroke-width="0.9"/>
<line x1="441.3" y1="382.5" x2="444.3" y2="382.5" stroke="#9a4454" stroke-width="0.9"/>
<line x1="464.5" y1="368.6" x2="464.5" y2="381.2" stroke="#9a4454" stroke-width="0.9"/>
<line x1="463.1" y1="368.5" x2="466.1" y2="368.5" stroke="#9a4454" stroke-width="0.9"/>
<line x1="463.1" y1="381.5" x2="466.1" y2="381.5" stroke="#9a4454" stroke-width="0.9"/>
<line x1="486.5" y1="348.2" x2="486.5" y2="363.4" stroke="#9a4454" stroke-width="0.9"/>
<line x1="485.1" y1="348.5" x2="488.1" y2="348.5" stroke="#9a4454" stroke-width="0.9"/>
<line x1="485.1" y1="363.5" x2="488.1" y2="363.5" stroke="#9a4454" stroke-width="0.9"/>
<line x1="508.5" y1="354.6" x2="508.5" y2="371.5" stroke="#9a4454" stroke-width="0.9"/>
<line x1="506.8" y1="354.5" x2="509.8" y2="354.5" stroke="#9a4454" stroke-width="0.9"/>
<line x1="506.8" y1="371.5" x2="509.8" y2="371.5" stroke="#9a4454" stroke-width="0.9"/>
<circle cx="420.8" cy="389.1" r="2.0" fill="#a8182e"/>
<circle cx="442.8" cy="380.6" r="2.0" fill="#a8182e"/>
<circle cx="464.6" cy="374.7" r="2.0" fill="#a8182e"/>
<circle cx="486.6" cy="356.4" r="2.0" fill="#a8182e"/>
<circle cx="508.3" cy="363.2" r="2.0" fill="#a8182e"/>
<text transform="translate(470.9,306.8) scale(1.0,1)" font-size="9.0" text-anchor="middle" style="" >CD3</text>
<text transform="translate(228.0,424.5) scale(1.0,1)" font-size="9.0" text-anchor="start" style="" textLength="89.8" lengthAdjust="spacingAndGlyphs" >Weeks after transplant</text>
<line x1="415.2" y1="318.5" x2="423.8" y2="318.5" stroke="#60669c" stroke-width="1"/>
<path d="M419.8 316.5L422.2 318.9L419.8 321.3L417.4 318.9Z" fill="#383c78"/>
<line x1="415.2" y1="328.5" x2="423.8" y2="328.5" stroke="#cc3c4c" stroke-width="1"/>
<circle cx="419.8" cy="328.2" r="1.9" fill="#a8182e"/>
<text transform="translate(428.3,321.2) scale(1,1)" font-size="8.6" text-anchor="start" style="" textLength="28.4" lengthAdjust="spacingAndGlyphs" >control</text>
<text transform="translate(428.3,330.5) scale(1,1)" font-size="8.8" text-anchor="start" style="font-style:italic">Nras<tspan font-size="5.2" dy="-2.7" dx="0.6">Δ/Δ</tspan></text>
<line x1="42.5" y1="459.1" x2="42.5" y2="540.4" stroke="#6e6e6e" stroke-width="1"/>
<line x1="42.4" y1="539.5" x2="148" y2="539.5" stroke="#6e6e6e" stroke-width="1"/>
<line x1="39.9" y1="539.5" x2="42.9" y2="539.5" stroke="#6e6e6e" stroke-width="1"/>
<text transform="translate(35.8,542.0) scale(0.875,1)" font-size="9.37" text-anchor="middle" style="" >0</text>
<line x1="39.9" y1="523.5" x2="42.9" y2="523.5" stroke="#6e6e6e" stroke-width="1"/>
<text transform="translate(35.1,525.94) scale(0.875,1)" font-size="9.37" text-anchor="middle" style="" >20</text>
<line x1="39.9" y1="507.5" x2="42.9" y2="507.5" stroke="#6e6e6e" stroke-width="1"/>
<text transform="translate(35.1,509.88) scale(0.875,1)" font-size="9.37" text-anchor="middle" style="" >40</text>
<line x1="39.9" y1="491.5" x2="42.9" y2="491.5" stroke="#6e6e6e" stroke-width="1"/>
<text transform="translate(35.1,493.82) scale(0.875,1)" font-size="9.37" text-anchor="middle" style="" >60</text>
<line x1="39.9" y1="475.5" x2="42.9" y2="475.5" stroke="#6e6e6e" stroke-width="1"/>
<text transform="translate(35.1,477.76) scale(0.875,1)" font-size="9.37" text-anchor="middle" style="" >80</text>
<line x1="39.9" y1="459.5" x2="42.9" y2="459.5" stroke="#6e6e6e" stroke-width="1"/>
<text transform="translate(34.4,461.7) scale(0.875,1)" font-size="9.37" text-anchor="middle" style="" >100</text>
<line x1="53.5" y1="539.9" x2="53.5" y2="542.9" stroke="#6e6e6e" stroke-width="1"/>
<text transform="translate(54.2,550.1999999999999) scale(0.875,1)" font-size="9.37" text-anchor="middle" style="" >4</text>
<line x1="75.5" y1="539.9" x2="75.5" y2="542.9" stroke="#6e6e6e" stroke-width="1"/>
<text transform="translate(75.3,550.1999999999999) scale(0.875,1)" font-size="9.37" text-anchor="middle" style="" >8</text>
<line x1="96.5" y1="539.9" x2="96.5" y2="542.9" stroke="#6e6e6e" stroke-width="1"/>
<text transform="translate(97.8,550.1999999999999) scale(0.875,1)" font-size="9.37" text-anchor="middle" style="" >12</text>
<line x1="117.5" y1="539.9" x2="117.5" y2="542.9" stroke="#6e6e6e" stroke-width="1"/>
<text transform="translate(118.9,550.1999999999999) scale(0.875,1)" font-size="9.37" text-anchor="middle" style="" >16</text>
<line x1="138.5" y1="539.9" x2="138.5" y2="542.9" stroke="#6e6e6e" stroke-width="1"/>
<text transform="translate(140.1,550.1999999999999) scale(0.875,1)" font-size="9.37" text-anchor="middle" style="" >20</text>
<polyline points="53.9,511.3 75.0,516.1 96.1,516.6 117.2,514.9 138.4,514.5" fill="none" stroke="#60669c" stroke-width="1"/>
<line x1="53.5" y1="507.3" x2="53.5" y2="515.3" stroke="#5c5c80" stroke-width="0.9"/>
<line x1="52.4" y1="507.5" x2="55.4" y2="507.5" stroke="#5c5c80" stroke-width="0.9"/>
<line x1="52.4" y1="515.5" x2="55.4" y2="515.5" stroke="#5c5c80" stroke-width="0.9"/>
<line x1="75.5" y1="512.0" x2="75.5" y2="520.1" stroke="#5c5c80" stroke-width="0.9"/>
<line x1="73.5" y1="512.5" x2="76.5" y2="512.5" stroke="#5c5c80" stroke-width="0.9"/>
<line x1="73.5" y1="520.5" x2="76.5" y2="520.5" stroke="#5c5c80" stroke-width="0.9"/>
<line x1="96.5" y1="512.6" x2="96.5" y2="520.6" stroke="#5c5c80" stroke-width="0.9"/>
<line x1="94.6" y1="512.5" x2="97.6" y2="512.5" stroke="#5c5c80" stroke-width="0.9"/>
<line x1="94.6" y1="520.5" x2="97.6" y2="520.5" stroke="#5c5c80" stroke-width="0.9"/>
<line x1="117.5" y1="510.9" x2="117.5" y2="518.9" stroke="#5c5c80" stroke-width="0.9"/>
<line x1="115.7" y1="510.5" x2="118.7" y2="510.5" stroke="#5c5c80" stroke-width="0.9"/>
<line x1="115.7" y1="518.5" x2="118.7" y2="518.5" stroke="#5c5c80" stroke-width="0.9"/>
<line x1="138.5" y1="510.5" x2="138.5" y2="518.5" stroke="#5c5c80" stroke-width="0.9"/>
<line x1="136.9" y1="510.5" x2="139.9" y2="510.5" stroke="#5c5c80" stroke-width="0.9"/>
<line x1="136.9" y1="518.5" x2="139.9" y2="518.5" stroke="#5c5c80" stroke-width="0.9"/>
<path d="M53.9 508.9L56.3 511.3L53.9 513.7L51.5 511.3Z" fill="#383c78"/>
<path d="M75.0 513.7L77.4 516.1L75.0 518.5L72.6 516.1Z" fill="#383c78"/>
<path d="M96.1 514.2L98.5 516.6L96.1 519.0L93.7 516.6Z" fill="#383c78"/>
<path d="M117.2 512.5L119.6 514.9L117.2 517.3L114.8 514.9Z" fill="#383c78"/>
<path d="M138.4 512.1L140.8 514.5L138.4 516.9L136.0 514.5Z" fill="#383c78"/>
<polyline points="53.9,507.1 75.0,475.7 96.1,473.3 117.2,471.8 138.4,471.6" fill="none" stroke="#cc3c4c" stroke-width="1"/>
<line x1="53.5" y1="503.0" x2="53.5" y2="511.1" stroke="#9a4454" stroke-width="0.9"/>
<line x1="52.4" y1="503.5" x2="55.4" y2="503.5" stroke="#9a4454" stroke-width="0.9"/>
<line x1="52.4" y1="511.5" x2="55.4" y2="511.5" stroke="#9a4454" stroke-width="0.9"/>
<line x1="75.5" y1="470.1" x2="75.5" y2="481.4" stroke="#9a4454" stroke-width="0.9"/>
<line x1="73.5" y1="470.5" x2="76.5" y2="470.5" stroke="#9a4454" stroke-width="0.9"/>
<line x1="73.5" y1="481.5" x2="76.5" y2="481.5" stroke="#9a4454" stroke-width="0.9"/>
<line x1="96.5" y1="466.8" x2="96.5" y2="479.7" stroke="#9a4454" stroke-width="0.9"/>
<line x1="94.6" y1="466.5" x2="97.6" y2="466.5" stroke="#9a4454" stroke-width="0.9"/>
<line x1="94.6" y1="479.5" x2="97.6" y2="479.5" stroke="#9a4454" stroke-width="0.9"/>
<line x1="117.5" y1="467.0" x2="117.5" y2="476.6" stroke="#9a4454" stroke-width="0.9"/>
<line x1="115.7" y1="467.5" x2="118.7" y2="467.5" stroke="#9a4454" stroke-width="0.9"/>
<line x1="115.7" y1="476.5" x2="118.7" y2="476.5" stroke="#9a4454" stroke-width="0.9"/>
<line x1="138.5" y1="466.8" x2="138.5" y2="476.5" stroke="#9a4454" stroke-width="0.9"/>
<line x1="136.9" y1="466.5" x2="139.9" y2="466.5" stroke="#9a4454" stroke-width="0.9"/>
<line x1="136.9" y1="476.5" x2="139.9" y2="476.5" stroke="#9a4454" stroke-width="0.9"/>
<circle cx="53.9" cy="507.1" r="2.0" fill="#a8182e"/>
<circle cx="75.0" cy="475.7" r="2.0" fill="#a8182e"/>
<circle cx="96.1" cy="473.3" r="2.0" fill="#a8182e"/>
<circle cx="117.2" cy="471.8" r="2.0" fill="#a8182e"/>
<circle cx="138.4" cy="471.6" r="2.0" fill="#a8182e"/>
<polyline points="53.9,503.5 75.0,476.5 96.1,476.8 117.2,474.4 138.4,476.5" fill="none" stroke="#1e2c22" stroke-width="1"/>
<line x1="53.5" y1="499.5" x2="53.5" y2="507.5" stroke="#5a5a5a" stroke-width="0.9"/>
<line x1="52.4" y1="499.5" x2="55.4" y2="499.5" stroke="#5a5a5a" stroke-width="0.9"/>
<line x1="52.4" y1="507.5" x2="55.4" y2="507.5" stroke="#5a5a5a" stroke-width="0.9"/>
<line x1="75.5" y1="470.8" x2="75.5" y2="482.1" stroke="#5a5a5a" stroke-width="0.9"/>
<line x1="73.5" y1="470.5" x2="76.5" y2="470.5" stroke="#5a5a5a" stroke-width="0.9"/>
<line x1="73.5" y1="482.5" x2="76.5" y2="482.5" stroke="#5a5a5a" stroke-width="0.9"/>
<line x1="96.5" y1="472.0" x2="96.5" y2="481.6" stroke="#5a5a5a" stroke-width="0.9"/>
<line x1="94.6" y1="472.5" x2="97.6" y2="472.5" stroke="#5a5a5a" stroke-width="0.9"/>
<line x1="94.6" y1="481.5" x2="97.6" y2="481.5" stroke="#5a5a5a" stroke-width="0.9"/>
<line x1="117.5" y1="469.6" x2="117.5" y2="479.2" stroke="#5a5a5a" stroke-width="0.9"/>
<line x1="115.7" y1="469.5" x2="118.7" y2="469.5" stroke="#5a5a5a" stroke-width="0.9"/>
<line x1="115.7" y1="479.5" x2="118.7" y2="479.5" stroke="#5a5a5a" stroke-width="0.9"/>
<line x1="138.5" y1="471.6" x2="138.5" y2="481.3" stroke="#5a5a5a" stroke-width="0.9"/>
<line x1="136.9" y1="471.5" x2="139.9" y2="471.5" stroke="#5a5a5a" stroke-width="0.9"/>
<line x1="136.9" y1="481.5" x2="139.9" y2="481.5" stroke="#5a5a5a" stroke-width="0.9"/>
<circle cx="53.9" cy="503.5" r="2.0" fill="#000"/>
<circle cx="75.0" cy="476.5" r="2.0" fill="#000"/>
<circle cx="96.1" cy="476.8" r="2.0" fill="#000"/>
<circle cx="117.2" cy="474.4" r="2.0" fill="#000"/>
<circle cx="138.4" cy="476.5" r="2.0" fill="#000"/>
<text transform="translate(100.3,446.5) scale(1.0,1)" font-size="9.0" text-anchor="middle" style="" >Gr-1</text>
<text transform="translate(26.3,537.5) rotate(-90) scale(0.96,1)" font-size="9.69" textLength="99.48" lengthAdjust="spacingAndGlyphs">% donor derived cells</text>
<line x1="164.5" y1="458.7" x2="164.5" y2="540.6" stroke="#6e6e6e" stroke-width="1"/>
<line x1="164.3" y1="540.5" x2="271.2" y2="540.5" stroke="#6e6e6e" stroke-width="1"/>
<line x1="161.8" y1="540.5" x2="164.8" y2="540.5" stroke="#6e6e6e" stroke-width="1"/>
<text transform="translate(158.8,542.2) scale(0.875,1)" font-size="9.37" text-anchor="middle" style="" >0</text>
<line x1="161.8" y1="523.5" x2="164.8" y2="523.5" stroke="#6e6e6e" stroke-width="1"/>
<text transform="translate(157.4,526.02) scale(0.875,1)" font-size="9.37" text-anchor="middle" style="" >20</text>
<line x1="161.8" y1="507.5" x2="164.8" y2="507.5" stroke="#6e6e6e" stroke-width="1"/>
<text transform="translate(157.4,509.84) scale(0.875,1)" font-size="9.37" text-anchor="middle" style="" >40</text>
<line x1="161.8" y1="491.5" x2="164.8" y2="491.5" stroke="#6e6e6e" stroke-width="1"/>
<text transform="translate(157.4,493.66) scale(0.875,1)" font-size="9.37" text-anchor="middle" style="" >60</text>
<line x1="161.8" y1="475.5" x2="164.8" y2="475.5" stroke="#6e6e6e" stroke-width="1"/>
<text transform="translate(157.4,477.48) scale(0.875,1)" font-size="9.37" text-anchor="middle" style="" >80</text>
<line x1="161.8" y1="459.5" x2="164.8" y2="459.5" stroke="#6e6e6e" stroke-width="1"/>
<text transform="translate(156.0,461.3) scale(0.875,1)" font-size="9.37" text-anchor="middle" style="" >100</text>
<line x1="175.5" y1="540.1" x2="175.5" y2="543.1" stroke="#6e6e6e" stroke-width="1"/>
<text transform="translate(176.2,550.4) scale(0.875,1)" font-size="9.37" text-anchor="middle" style="" >4</text>
<line x1="197.5" y1="540.1" x2="197.5" y2="543.1" stroke="#6e6e6e" stroke-width="1"/>
<text transform="translate(197.3,550.4) scale(0.875,1)" font-size="9.37" text-anchor="middle" style="" >8</text>
<line x1="218.5" y1="540.1" x2="218.5" y2="543.1" stroke="#6e6e6e" stroke-width="1"/>
<text transform="translate(219.9,550.4) scale(0.875,1)" font-size="9.37" text-anchor="middle" style="" >12</text>
<line x1="239.5" y1="540.1" x2="239.5" y2="543.1" stroke="#6e6e6e" stroke-width="1"/>
<text transform="translate(241.0,550.4) scale(0.875,1)" font-size="9.37" text-anchor="middle" style="" >16</text>
<line x1="260.5" y1="540.1" x2="260.5" y2="543.1" stroke="#6e6e6e" stroke-width="1"/>
<text transform="translate(262.2,550.4) scale(0.875,1)" font-size="9.37" text-anchor="middle" style="" >20</text>
<polyline points="175.9,513.4 197.0,519.9 218.2,517.4 239.3,517.4 260.5,516.6" fill="none" stroke="#60669c" stroke-width="1"/>
<line x1="175.5" y1="510.2" x2="175.5" y2="516.6" stroke="#5c5c80" stroke-width="0.9"/>
<line x1="174.4" y1="510.5" x2="177.4" y2="510.5" stroke="#5c5c80" stroke-width="0.9"/>
<line x1="174.4" y1="516.5" x2="177.4" y2="516.5" stroke="#5c5c80" stroke-width="0.9"/>
<line x1="197.5" y1="516.6" x2="197.5" y2="523.1" stroke="#5c5c80" stroke-width="0.9"/>
<line x1="195.5" y1="516.5" x2="198.5" y2="516.5" stroke="#5c5c80" stroke-width="0.9"/>
<line x1="195.5" y1="523.5" x2="198.5" y2="523.5" stroke="#5c5c80" stroke-width="0.9"/>
<line x1="218.5" y1="514.2" x2="218.5" y2="520.7" stroke="#5c5c80" stroke-width="0.9"/>
<line x1="216.7" y1="514.5" x2="219.7" y2="514.5" stroke="#5c5c80" stroke-width="0.9"/>
<line x1="216.7" y1="520.5" x2="219.7" y2="520.5" stroke="#5c5c80" stroke-width="0.9"/>
<line x1="239.5" y1="514.2" x2="239.5" y2="520.7" stroke="#5c5c80" stroke-width="0.9"/>
<line x1="237.8" y1="514.5" x2="240.8" y2="514.5" stroke="#5c5c80" stroke-width="0.9"/>
<line x1="237.8" y1="520.5" x2="240.8" y2="520.5" stroke="#5c5c80" stroke-width="0.9"/>
<line x1="260.5" y1="513.4" x2="260.5" y2="519.9" stroke="#5c5c80" stroke-width="0.9"/>
<line x1="259.0" y1="513.5" x2="262.0" y2="513.5" stroke="#5c5c80" stroke-width="0.9"/>
<line x1="259.0" y1="519.5" x2="262.0" y2="519.5" stroke="#5c5c80" stroke-width="0.9"/>
<path d="M175.9 511.0L178.3 513.4L175.9 515.8L173.5 513.4Z" fill="#383c78"/>
<path d="M197.0 517.5L199.4 519.9L197.0 522.3L194.6 519.9Z" fill="#383c78"/>
<path d="M218.2 515.0L220.6 517.4L218.2 519.8L215.8 517.4Z" fill="#383c78"/>
<path d="M239.3 515.0L241.7 517.4L239.3 519.8L236.9 517.4Z" fill="#383c78"/>
<path d="M260.5 514.2L262.9 516.6L260.5 519.0L258.1 516.6Z" fill="#383c78"/>
<polyline points="175.9,502.1 197.0,477.8 218.2,473.5 239.3,472.1 260.5,471.3" fill="none" stroke="#cc3c4c" stroke-width="1"/>
<line x1="175.5" y1="499.6" x2="175.5" y2="504.5" stroke="#9a4454" stroke-width="0.9"/>
<line x1="174.4" y1="499.5" x2="177.4" y2="499.5" stroke="#9a4454" stroke-width="0.9"/>
<line x1="174.4" y1="504.5" x2="177.4" y2="504.5" stroke="#9a4454" stroke-width="0.9"/>
<line x1="197.5" y1="471.3" x2="197.5" y2="484.3" stroke="#9a4454" stroke-width="0.9"/>
<line x1="195.5" y1="471.5" x2="198.5" y2="471.5" stroke="#9a4454" stroke-width="0.9"/>
<line x1="195.5" y1="484.5" x2="198.5" y2="484.5" stroke="#9a4454" stroke-width="0.9"/>
<line x1="218.5" y1="467.0" x2="218.5" y2="480.0" stroke="#9a4454" stroke-width="0.9"/>
<line x1="216.7" y1="467.5" x2="219.7" y2="467.5" stroke="#9a4454" stroke-width="0.9"/>
<line x1="216.7" y1="480.5" x2="219.7" y2="480.5" stroke="#9a4454" stroke-width="0.9"/>
<line x1="239.5" y1="467.3" x2="239.5" y2="477.0" stroke="#9a4454" stroke-width="0.9"/>
<line x1="237.8" y1="467.5" x2="240.8" y2="467.5" stroke="#9a4454" stroke-width="0.9"/>
<line x1="237.8" y1="477.5" x2="240.8" y2="477.5" stroke="#9a4454" stroke-width="0.9"/>
<line x1="260.5" y1="466.5" x2="260.5" y2="476.2" stroke="#9a4454" stroke-width="0.9"/>
<line x1="259.0" y1="466.5" x2="262.0" y2="466.5" stroke="#9a4454" stroke-width="0.9"/>
<line x1="259.0" y1="476.5" x2="262.0" y2="476.5" stroke="#9a4454" stroke-width="0.9"/>
<circle cx="175.9" cy="502.1" r="2.0" fill="#a8182e"/>
<circle cx="197.0" cy="477.8" r="2.0" fill="#a8182e"/>
<circle cx="218.2" cy="473.5" r="2.0" fill="#a8182e"/>
<circle cx="239.3" cy="472.1" r="2.0" fill="#a8182e"/>
<circle cx="260.5" cy="471.3" r="2.0" fill="#a8182e"/>
<polyline points="175.9,505.1 197.0,477.6 218.2,477.8 239.3,475.7 260.5,476.7" fill="none" stroke="#1e2c22" stroke-width="1"/>
<line x1="175.5" y1="502.6" x2="175.5" y2="507.5" stroke="#5a5a5a" stroke-width="0.9"/>
<line x1="174.4" y1="502.5" x2="177.4" y2="502.5" stroke="#5a5a5a" stroke-width="0.9"/>
<line x1="174.4" y1="507.5" x2="177.4" y2="507.5" stroke="#5a5a5a" stroke-width="0.9"/>
<line x1="197.5" y1="471.1" x2="197.5" y2="484.0" stroke="#5a5a5a" stroke-width="0.9"/>
<line x1="195.5" y1="471.5" x2="198.5" y2="471.5" stroke="#5a5a5a" stroke-width="0.9"/>
<line x1="195.5" y1="484.5" x2="198.5" y2="484.5" stroke="#5a5a5a" stroke-width="0.9"/>
<line x1="218.5" y1="473.0" x2="218.5" y2="482.7" stroke="#5a5a5a" stroke-width="0.9"/>
<line x1="216.7" y1="473.5" x2="219.7" y2="473.5" stroke="#5a5a5a" stroke-width="0.9"/>
<line x1="216.7" y1="482.5" x2="219.7" y2="482.5" stroke="#5a5a5a" stroke-width="0.9"/>
<line x1="239.5" y1="470.8" x2="239.5" y2="480.6" stroke="#5a5a5a" stroke-width="0.9"/>
<line x1="237.8" y1="470.5" x2="240.8" y2="470.5" stroke="#5a5a5a" stroke-width="0.9"/>
<line x1="237.8" y1="480.5" x2="240.8" y2="480.5" stroke="#5a5a5a" stroke-width="0.9"/>
<line x1="260.5" y1="471.8" x2="260.5" y2="481.5" stroke="#5a5a5a" stroke-width="0.9"/>
<line x1="259.0" y1="471.5" x2="262.0" y2="471.5" stroke="#5a5a5a" stroke-width="0.9"/>
<line x1="259.0" y1="481.5" x2="262.0" y2="481.5" stroke="#5a5a5a" stroke-width="0.9"/>
<circle cx="175.9" cy="505.1" r="2.0" fill="#000"/>
<circle cx="197.0" cy="477.6" r="2.0" fill="#000"/>
<circle cx="218.2" cy="477.8" r="2.0" fill="#000"/>
<circle cx="239.3" cy="475.7" r="2.0" fill="#000"/>
<circle cx="260.5" cy="476.7" r="2.0" fill="#000"/>
<text transform="translate(216.0,446.5) scale(1.0,1)" font-size="9.0" text-anchor="middle" style="" >Mac-1</text>
<line x1="286.5" y1="458.7" x2="286.5" y2="540.9" stroke="#6e6e6e" stroke-width="1"/>
<line x1="285.9" y1="540.5" x2="395.6" y2="540.5" stroke="#6e6e6e" stroke-width="1"/>
<line x1="283.4" y1="540.5" x2="286.4" y2="540.5" stroke="#6e6e6e" stroke-width="1"/>
<text transform="translate(280.7,542.5) scale(0.875,1)" font-size="9.37" text-anchor="middle" style="" >0</text>
<line x1="283.4" y1="524.5" x2="286.4" y2="524.5" stroke="#6e6e6e" stroke-width="1"/>
<text transform="translate(279.3,526.26) scale(0.875,1)" font-size="9.37" text-anchor="middle" style="" >20</text>
<line x1="283.4" y1="507.5" x2="286.4" y2="507.5" stroke="#6e6e6e" stroke-width="1"/>
<text transform="translate(279.3,510.02) scale(0.875,1)" font-size="9.37" text-anchor="middle" style="" >40</text>
<line x1="283.4" y1="491.5" x2="286.4" y2="491.5" stroke="#6e6e6e" stroke-width="1"/>
<text transform="translate(279.3,493.78) scale(0.875,1)" font-size="9.37" text-anchor="middle" style="" >60</text>
<line x1="283.4" y1="475.5" x2="286.4" y2="475.5" stroke="#6e6e6e" stroke-width="1"/>
<text transform="translate(279.3,477.54) scale(0.875,1)" font-size="9.37" text-anchor="middle" style="" >80</text>
<line x1="283.4" y1="459.5" x2="286.4" y2="459.5" stroke="#6e6e6e" stroke-width="1"/>
<text transform="translate(277.9,461.3) scale(0.875,1)" font-size="9.37" text-anchor="middle" style="" >100</text>
<line x1="298.5" y1="540.4" x2="298.5" y2="543.4" stroke="#6e6e6e" stroke-width="1"/>
<text transform="translate(298.5,550.6999999999999) scale(0.875,1)" font-size="9.37" text-anchor="middle" style="" >4</text>
<line x1="319.5" y1="540.4" x2="319.5" y2="543.4" stroke="#6e6e6e" stroke-width="1"/>
<text transform="translate(319.9,550.6999999999999) scale(0.875,1)" font-size="9.37" text-anchor="middle" style="" >8</text>
<line x1="341.5" y1="540.4" x2="341.5" y2="543.4" stroke="#6e6e6e" stroke-width="1"/>
<text transform="translate(342.8,550.6999999999999) scale(0.875,1)" font-size="9.37" text-anchor="middle" style="" >12</text>
<line x1="362.5" y1="540.4" x2="362.5" y2="543.4" stroke="#6e6e6e" stroke-width="1"/>
<text transform="translate(364.5,550.6999999999999) scale(0.875,1)" font-size="9.37" text-anchor="middle" style="" >16</text>
<line x1="384.5" y1="540.4" x2="384.5" y2="543.4" stroke="#6e6e6e" stroke-width="1"/>
<text transform="translate(385.9,550.6999999999999) scale(0.875,1)" font-size="9.37" text-anchor="middle" style="" >20</text>
<polyline points="298.2,505.0 319.6,506.2 341.1,499.7 362.8,502.6 384.2,502.6" fill="none" stroke="#60669c" stroke-width="1"/>
<line x1="298.5" y1="501.7" x2="298.5" y2="508.2" stroke="#5c5c80" stroke-width="0.9"/>
<line x1="296.7" y1="501.5" x2="299.7" y2="501.5" stroke="#5c5c80" stroke-width="0.9"/>
<line x1="296.7" y1="508.5" x2="299.7" y2="508.5" stroke="#5c5c80" stroke-width="0.9"/>
<line x1="319.5" y1="502.2" x2="319.5" y2="510.3" stroke="#5c5c80" stroke-width="0.9"/>
<line x1="318.1" y1="502.5" x2="321.1" y2="502.5" stroke="#5c5c80" stroke-width="0.9"/>
<line x1="318.1" y1="510.5" x2="321.1" y2="510.5" stroke="#5c5c80" stroke-width="0.9"/>
<line x1="341.5" y1="494.8" x2="341.5" y2="504.6" stroke="#5c5c80" stroke-width="0.9"/>
<line x1="339.6" y1="494.5" x2="342.6" y2="494.5" stroke="#5c5c80" stroke-width="0.9"/>
<line x1="339.6" y1="504.5" x2="342.6" y2="504.5" stroke="#5c5c80" stroke-width="0.9"/>
<line x1="362.5" y1="498.5" x2="362.5" y2="506.6" stroke="#5c5c80" stroke-width="0.9"/>
<line x1="361.3" y1="498.5" x2="364.3" y2="498.5" stroke="#5c5c80" stroke-width="0.9"/>
<line x1="361.3" y1="506.5" x2="364.3" y2="506.5" stroke="#5c5c80" stroke-width="0.9"/>
<line x1="384.5" y1="498.5" x2="384.5" y2="506.6" stroke="#5c5c80" stroke-width="0.9"/>
<line x1="382.7" y1="498.5" x2="385.7" y2="498.5" stroke="#5c5c80" stroke-width="0.9"/>
<line x1="382.7" y1="506.5" x2="385.7" y2="506.5" stroke="#5c5c80" stroke-width="0.9"/>
<path d="M298.2 502.6L300.6 505.0L298.2 507.4L295.8 505.0Z" fill="#383c78"/>
<path d="M319.6 503.8L322.0 506.2L319.6 508.6L317.2 506.2Z" fill="#383c78"/>
<path d="M341.1 497.3L343.5 499.7L341.1 502.1L338.7 499.7Z" fill="#383c78"/>
<path d="M362.8 500.2L365.2 502.6L362.8 505.0L360.4 502.6Z" fill="#383c78"/>
<path d="M384.2 500.2L386.6 502.6L384.2 505.0L381.8 502.6Z" fill="#383c78"/>
<polyline points="298.2,478.4 319.6,471.8 341.1,473.4 362.8,473.4 384.2,472.2" fill="none" stroke="#cc3c4c" stroke-width="1"/>
<line x1="319.5" y1="469.3" x2="319.5" y2="474.2" stroke="#9a4454" stroke-width="0.9"/>
<line x1="318.1" y1="469.5" x2="321.1" y2="469.5" stroke="#9a4454" stroke-width="0.9"/>
<line x1="318.1" y1="474.5" x2="321.1" y2="474.5" stroke="#9a4454" stroke-width="0.9"/>
<line x1="341.5" y1="468.5" x2="341.5" y2="478.3" stroke="#9a4454" stroke-width="0.9"/>
<line x1="339.6" y1="468.5" x2="342.6" y2="468.5" stroke="#9a4454" stroke-width="0.9"/>
<line x1="339.6" y1="478.5" x2="342.6" y2="478.5" stroke="#9a4454" stroke-width="0.9"/>
<line x1="362.5" y1="470.2" x2="362.5" y2="476.7" stroke="#9a4454" stroke-width="0.9"/>
<line x1="361.3" y1="470.5" x2="364.3" y2="470.5" stroke="#9a4454" stroke-width="0.9"/>
<line x1="361.3" y1="476.5" x2="364.3" y2="476.5" stroke="#9a4454" stroke-width="0.9"/>
<line x1="384.5" y1="468.1" x2="384.5" y2="476.3" stroke="#9a4454" stroke-width="0.9"/>
<line x1="382.7" y1="468.5" x2="385.7" y2="468.5" stroke="#9a4454" stroke-width="0.9"/>
<line x1="382.7" y1="476.5" x2="385.7" y2="476.5" stroke="#9a4454" stroke-width="0.9"/>
<circle cx="298.2" cy="478.4" r="2.0" fill="#a8182e"/>
<circle cx="319.6" cy="471.8" r="2.0" fill="#a8182e"/>
<circle cx="341.1" cy="473.4" r="2.0" fill="#a8182e"/>
<circle cx="362.8" cy="473.4" r="2.0" fill="#a8182e"/>
<circle cx="384.2" cy="472.2" r="2.0" fill="#a8182e"/>
<polyline points="298.2,478.4 319.6,475.0 341.1,475.0 362.8,475.8 384.2,475.8" fill="none" stroke="#1e2c22" stroke-width="1"/>
<line x1="319.5" y1="473.4" x2="319.5" y2="476.7" stroke="#5a5a5a" stroke-width="0.9"/>
<line x1="318.1" y1="473.5" x2="321.1" y2="473.5" stroke="#5a5a5a" stroke-width="0.9"/>
<line x1="318.1" y1="476.5" x2="321.1" y2="476.5" stroke="#5a5a5a" stroke-width="0.9"/>
<line x1="341.5" y1="472.6" x2="341.5" y2="477.5" stroke="#5a5a5a" stroke-width="0.9"/>
<line x1="339.6" y1="472.5" x2="342.6" y2="472.5" stroke="#5a5a5a" stroke-width="0.9"/>
<line x1="339.6" y1="477.5" x2="342.6" y2="477.5" stroke="#5a5a5a" stroke-width="0.9"/>
<line x1="362.5" y1="472.5" x2="362.5" y2="479.0" stroke="#5a5a5a" stroke-width="0.9"/>
<line x1="361.3" y1="472.5" x2="364.3" y2="472.5" stroke="#5a5a5a" stroke-width="0.9"/>
<line x1="361.3" y1="479.5" x2="364.3" y2="479.5" stroke="#5a5a5a" stroke-width="0.9"/>
<line x1="384.5" y1="472.5" x2="384.5" y2="479.0" stroke="#5a5a5a" stroke-width="0.9"/>
<line x1="382.7" y1="472.5" x2="385.7" y2="472.5" stroke="#5a5a5a" stroke-width="0.9"/>
<line x1="382.7" y1="479.5" x2="385.7" y2="479.5" stroke="#5a5a5a" stroke-width="0.9"/>
<circle cx="298.2" cy="478.4" r="2.0" fill="#000"/>
<circle cx="319.6" cy="475.0" r="2.0" fill="#000"/>
<circle cx="341.1" cy="475.0" r="2.0" fill="#000"/>
<circle cx="362.8" cy="475.8" r="2.0" fill="#000"/>
<circle cx="384.2" cy="475.8" r="2.0" fill="#000"/>
<text transform="translate(346.5,446.5) scale(1.0,1)" font-size="9.0" text-anchor="middle" style="" >B220</text>
<line x1="411.5" y1="459.5" x2="411.5" y2="541.4" stroke="#6e6e6e" stroke-width="1"/>
<line x1="411.2" y1="540.5" x2="520" y2="540.5" stroke="#6e6e6e" stroke-width="1"/>
<line x1="408.7" y1="540.5" x2="411.7" y2="540.5" stroke="#6e6e6e" stroke-width="1"/>
<text transform="translate(406.2,543.0) scale(0.875,1)" font-size="9.37" text-anchor="middle" style="" >0</text>
<line x1="408.7" y1="524.5" x2="411.7" y2="524.5" stroke="#6e6e6e" stroke-width="1"/>
<text transform="translate(404.75,526.82) scale(0.875,1)" font-size="9.37" text-anchor="middle" style="" >20</text>
<line x1="408.7" y1="508.5" x2="411.7" y2="508.5" stroke="#6e6e6e" stroke-width="1"/>
<text transform="translate(404.75,510.64) scale(0.875,1)" font-size="9.37" text-anchor="middle" style="" >40</text>
<line x1="408.7" y1="492.5" x2="411.7" y2="492.5" stroke="#6e6e6e" stroke-width="1"/>
<text transform="translate(404.75,494.46) scale(0.875,1)" font-size="9.37" text-anchor="middle" style="" >60</text>
<line x1="408.7" y1="476.5" x2="411.7" y2="476.5" stroke="#6e6e6e" stroke-width="1"/>
<text transform="translate(404.75,478.28) scale(0.875,1)" font-size="9.37" text-anchor="middle" style="" >80</text>
<line x1="408.7" y1="460.5" x2="411.7" y2="460.5" stroke="#6e6e6e" stroke-width="1"/>
<text transform="translate(403.3,462.1) scale(0.875,1)" font-size="9.37" text-anchor="middle" style="" >100</text>
<line x1="422.5" y1="540.9" x2="422.5" y2="543.9" stroke="#6e6e6e" stroke-width="1"/>
<text transform="translate(423.2,551.1999999999999) scale(0.875,1)" font-size="9.37" text-anchor="middle" style="" >4</text>
<line x1="444.5" y1="540.9" x2="444.5" y2="543.9" stroke="#6e6e6e" stroke-width="1"/>
<text transform="translate(444.6,551.1999999999999) scale(0.875,1)" font-size="9.37" text-anchor="middle" style="" >8</text>
<line x1="465.5" y1="540.9" x2="465.5" y2="543.9" stroke="#6e6e6e" stroke-width="1"/>
<text transform="translate(467.5,551.1999999999999) scale(0.875,1)" font-size="9.37" text-anchor="middle" style="" >12</text>
<line x1="487.5" y1="540.9" x2="487.5" y2="543.9" stroke="#6e6e6e" stroke-width="1"/>
<text transform="translate(488.9,551.1999999999999) scale(0.875,1)" font-size="9.37" text-anchor="middle" style="" >16</text>
<line x1="507.5" y1="540.9" x2="507.5" y2="543.9" stroke="#6e6e6e" stroke-width="1"/>
<text transform="translate(509.5,551.1999999999999) scale(0.875,1)" font-size="9.37" text-anchor="middle" style="" >20</text>
<polyline points="422.9,530.9 444.3,529.3 465.8,514.8 487.2,518.0 507.8,513.2" fill="none" stroke="#60669c" stroke-width="1"/>
<line x1="422.5" y1="529.3" x2="422.5" y2="532.5" stroke="#5c5c80" stroke-width="0.9"/>
<line x1="421.4" y1="529.5" x2="424.4" y2="529.5" stroke="#5c5c80" stroke-width="0.9"/>
<line x1="421.4" y1="532.5" x2="424.4" y2="532.5" stroke="#5c5c80" stroke-width="0.9"/>
<line x1="444.5" y1="528.4" x2="444.5" y2="530.1" stroke="#5c5c80" stroke-width="0.9"/>
<line x1="442.8" y1="528.5" x2="445.8" y2="528.5" stroke="#5c5c80" stroke-width="0.9"/>
<line x1="442.8" y1="530.5" x2="445.8" y2="530.5" stroke="#5c5c80" stroke-width="0.9"/>
<line x1="465.5" y1="511.5" x2="465.5" y2="518.0" stroke="#5c5c80" stroke-width="0.9"/>
<line x1="464.3" y1="511.5" x2="467.3" y2="511.5" stroke="#5c5c80" stroke-width="0.9"/>
<line x1="464.3" y1="518.5" x2="467.3" y2="518.5" stroke="#5c5c80" stroke-width="0.9"/>
<line x1="487.5" y1="514.8" x2="487.5" y2="521.2" stroke="#5c5c80" stroke-width="0.9"/>
<line x1="485.7" y1="514.5" x2="488.7" y2="514.5" stroke="#5c5c80" stroke-width="0.9"/>
<line x1="485.7" y1="521.5" x2="488.7" y2="521.5" stroke="#5c5c80" stroke-width="0.9"/>
<line x1="507.5" y1="509.9" x2="507.5" y2="516.4" stroke="#5c5c80" stroke-width="0.9"/>
<line x1="506.3" y1="509.5" x2="509.3" y2="509.5" stroke="#5c5c80" stroke-width="0.9"/>
<line x1="506.3" y1="516.5" x2="509.3" y2="516.5" stroke="#5c5c80" stroke-width="0.9"/>
<path d="M422.9 528.5L425.3 530.9L422.9 533.3L420.5 530.9Z" fill="#383c78"/>
<path d="M444.3 526.9L446.7 529.3L444.3 531.7L441.9 529.3Z" fill="#383c78"/>
<path d="M465.8 512.4L468.2 514.8L465.8 517.2L463.4 514.8Z" fill="#383c78"/>
<path d="M487.2 515.6L489.6 518.0L487.2 520.4L484.8 518.0Z" fill="#383c78"/>
<path d="M507.8 510.8L510.2 513.2L507.8 515.6L505.4 513.2Z" fill="#383c78"/>
<polyline points="422.9,519.5 444.3,505.1 465.8,484.9 487.2,485.4 507.8,482.7" fill="none" stroke="#cc3c4c" stroke-width="1"/>
<line x1="422.5" y1="516.3" x2="422.5" y2="522.8" stroke="#9a4454" stroke-width="0.9"/>
<line x1="421.4" y1="516.5" x2="424.4" y2="516.5" stroke="#9a4454" stroke-width="0.9"/>
<line x1="421.4" y1="522.5" x2="424.4" y2="522.5" stroke="#9a4454" stroke-width="0.9"/>
<line x1="444.5" y1="502.6" x2="444.5" y2="507.5" stroke="#9a4454" stroke-width="0.9"/>
<line x1="442.8" y1="502.5" x2="445.8" y2="502.5" stroke="#9a4454" stroke-width="0.9"/>
<line x1="442.8" y1="507.5" x2="445.8" y2="507.5" stroke="#9a4454" stroke-width="0.9"/>
<line x1="465.5" y1="482.5" x2="465.5" y2="487.3" stroke="#9a4454" stroke-width="0.9"/>
<line x1="464.3" y1="482.5" x2="467.3" y2="482.5" stroke="#9a4454" stroke-width="0.9"/>
<line x1="464.3" y1="487.5" x2="467.3" y2="487.5" stroke="#9a4454" stroke-width="0.9"/>
<line x1="487.5" y1="483.8" x2="487.5" y2="487.0" stroke="#9a4454" stroke-width="0.9"/>
<line x1="485.7" y1="483.5" x2="488.7" y2="483.5" stroke="#9a4454" stroke-width="0.9"/>
<line x1="485.7" y1="487.5" x2="488.7" y2="487.5" stroke="#9a4454" stroke-width="0.9"/>
<line x1="507.5" y1="481.0" x2="507.5" y2="484.3" stroke="#9a4454" stroke-width="0.9"/>
<line x1="506.3" y1="481.5" x2="509.3" y2="481.5" stroke="#9a4454" stroke-width="0.9"/>
<line x1="506.3" y1="484.5" x2="509.3" y2="484.5" stroke="#9a4454" stroke-width="0.9"/>
<circle cx="422.9" cy="519.5" r="2.0" fill="#a8182e"/>
<circle cx="444.3" cy="505.1" r="2.0" fill="#a8182e"/>
<circle cx="465.8" cy="484.9" r="2.0" fill="#a8182e"/>
<circle cx="487.2" cy="485.4" r="2.0" fill="#a8182e"/>
<circle cx="507.8" cy="482.7" r="2.0" fill="#a8182e"/>
<polyline points="422.9,520.8 444.3,503.4 465.8,489.4 487.2,485.4 507.8,481.8" fill="none" stroke="#1e2c22" stroke-width="1"/>
<line x1="422.5" y1="517.5" x2="422.5" y2="524.0" stroke="#5a5a5a" stroke-width="0.9"/>
<line x1="421.4" y1="517.5" x2="424.4" y2="517.5" stroke="#5a5a5a" stroke-width="0.9"/>
<line x1="421.4" y1="524.5" x2="424.4" y2="524.5" stroke="#5a5a5a" stroke-width="0.9"/>
<line x1="444.5" y1="499.4" x2="444.5" y2="507.5" stroke="#5a5a5a" stroke-width="0.9"/>
<line x1="442.8" y1="499.5" x2="445.8" y2="499.5" stroke="#5a5a5a" stroke-width="0.9"/>
<line x1="442.8" y1="507.5" x2="445.8" y2="507.5" stroke="#5a5a5a" stroke-width="0.9"/>
<line x1="465.5" y1="487.7" x2="465.5" y2="491.0" stroke="#5a5a5a" stroke-width="0.9"/>
<line x1="464.3" y1="487.5" x2="467.3" y2="487.5" stroke="#5a5a5a" stroke-width="0.9"/>
<line x1="464.3" y1="491.5" x2="467.3" y2="491.5" stroke="#5a5a5a" stroke-width="0.9"/>
<line x1="487.5" y1="483.8" x2="487.5" y2="487.0" stroke="#5a5a5a" stroke-width="0.9"/>
<line x1="485.7" y1="483.5" x2="488.7" y2="483.5" stroke="#5a5a5a" stroke-width="0.9"/>
<line x1="485.7" y1="487.5" x2="488.7" y2="487.5" stroke="#5a5a5a" stroke-width="0.9"/>
<line x1="507.5" y1="480.2" x2="507.5" y2="483.5" stroke="#5a5a5a" stroke-width="0.9"/>
<line x1="506.3" y1="480.5" x2="509.3" y2="480.5" stroke="#5a5a5a" stroke-width="0.9"/>
<line x1="506.3" y1="483.5" x2="509.3" y2="483.5" stroke="#5a5a5a" stroke-width="0.9"/>
<circle cx="422.9" cy="520.8" r="2.0" fill="#000"/>
<circle cx="444.3" cy="503.4" r="2.0" fill="#000"/>
<circle cx="465.8" cy="489.4" r="2.0" fill="#000"/>
<circle cx="487.2" cy="485.4" r="2.0" fill="#000"/>
<circle cx="507.8" cy="481.8" r="2.0" fill="#000"/>
<text transform="translate(471.0,446.5) scale(1.0,1)" font-size="9.0" text-anchor="middle" style="" >CD3</text>
<text transform="translate(228.2,566.2) scale(1.0,1)" font-size="9.0" text-anchor="start" style="" textLength="89.5" lengthAdjust="spacingAndGlyphs" >Weeks after transplant</text>
<line x1="420.9" y1="456.5" x2="429.5" y2="456.5" stroke="#60669c" stroke-width="1"/>
<path d="M425.4 453.7L427.8 456.1L425.4 458.5L423.0 456.1Z" fill="#383c78"/>
<line x1="420.9" y1="465.5" x2="429.5" y2="465.5" stroke="#cc3c4c" stroke-width="1"/>
<circle cx="425.4" cy="465.3" r="1.9" fill="#a8182e"/>
<line x1="420.9" y1="474.5" x2="429.5" y2="474.5" stroke="#1e2c22" stroke-width="1"/>
<circle cx="425.4" cy="474.8" r="1.9" fill="#000"/>
<text transform="translate(434.0,457.8) scale(1,1)" font-size="8.6" text-anchor="start" style="" textLength="28.4" lengthAdjust="spacingAndGlyphs" >control</text>
<text transform="translate(434.0,466.6) scale(1,1)" font-size="8.8" text-anchor="start" style="font-style:italic">Nras<tspan font-size="4.8" dy="-2.7" dx="0.6">G12D/+</tspan></text>
<text transform="translate(434.0,475.8) scale(1,1)" font-size="8.8" text-anchor="start" style="font-style:italic">Nras<tspan font-size="4.8" dy="-2.7" dx="0.6">G12D/Δ</tspan></text>
</g></svg>
</body></html>
